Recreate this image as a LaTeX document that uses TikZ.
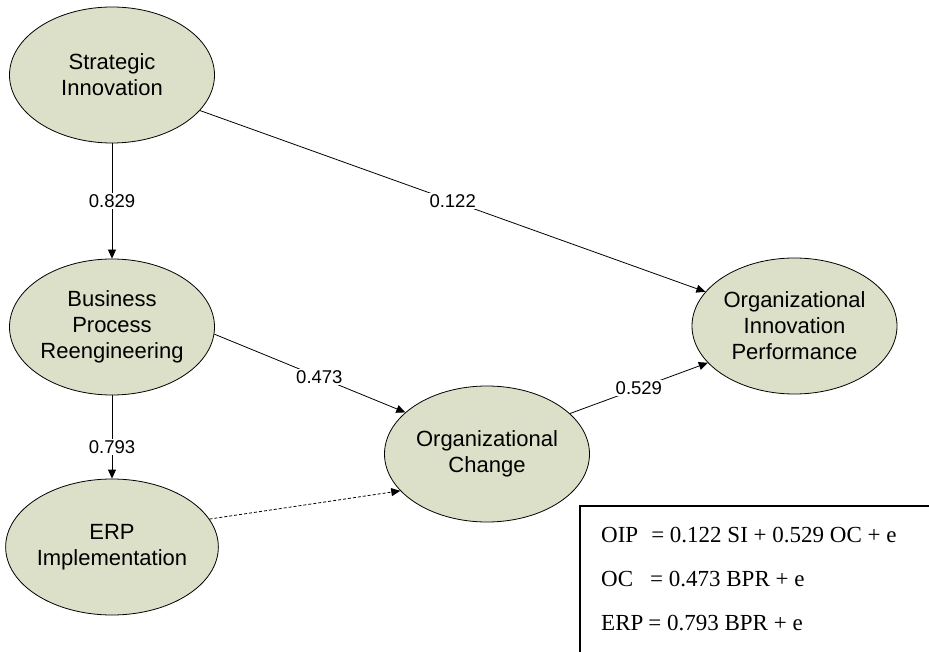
\documentclass[tikz,border=0pt]{standalone}
\usepackage{fontspec}
\setmainfont{Liberation Serif}
\newfontfamily\arialfont{Liberation Sans}
\usetikzlibrary{shapes.geometric,arrows.meta}
\definecolor{construct}{RGB}{221,224,200}

\begin{document}
\begin{tikzpicture}[x=1pt,y=-1pt,
  latent/.style={ellipse,draw,line width=0.8pt,fill=construct,minimum width=205pt,minimum height=136pt,inner sep=0pt,align=center,font=\arialfont\fontsize{22}{26}\selectfont},
  coef/.style={fill=white,inner sep=1.5pt,font=\arialfont\fontsize{18.5}{22}\selectfont},
  eqn/.style={anchor=base west,inner sep=0pt,font=\fontsize{23}{27}\selectfont},
  >={Triangle[length=9pt,width=8pt]}]
  \useasboundingbox (0,0) rectangle (929,652);
  \node[latent] (si)  at (112,75)    {Strategic\\Innovation};
  \node[latent] (bpr) at (112,327)   {Business\\Process\\Reengineering};
  \node[latent] (erp) at (112,547)   {ERP\\Implementation};
  \node[latent] (oc)  at (487,454)   {Organizational\\Change};
  \node[latent] (oip) at (794.5,326) {Organizational\\Innovation\\Performance};
  \path[->,line width=0.8pt]
  (si) edge node [coef] {0.829} (bpr)
  (si.-22) edge node [coef] {0.122} (oip.159.6)
  (bpr) edge node [coef,pos=0.62] {0.793} (erp)
  (bpr.-4) edge node [coef,pos=0.55] {0.473} (oc.153)
  (oc.26.6) edge node [coef] {0.529} (oip.203.5)
  (erp.16) edge [dash pattern=on 3pt off 2pt] (oc.203.6)
  ;
  \draw[line width=1.2pt] (945,506) -- (580,506) -- (580,665);
  \node[eqn] (eqoip) at (601,542) {OIP\hspace{13pt}= 0.122 SI + 0.529 OC + e};
  \node[eqn] (eqoc)  at (601,586) {OC\hspace{17pt}= 0.473 BPR + e};
  \node[eqn] (eqerp) at (601,630) {ERP\hspace{5pt}= 0.793 BPR + e};
\end{tikzpicture}
\end{document}
